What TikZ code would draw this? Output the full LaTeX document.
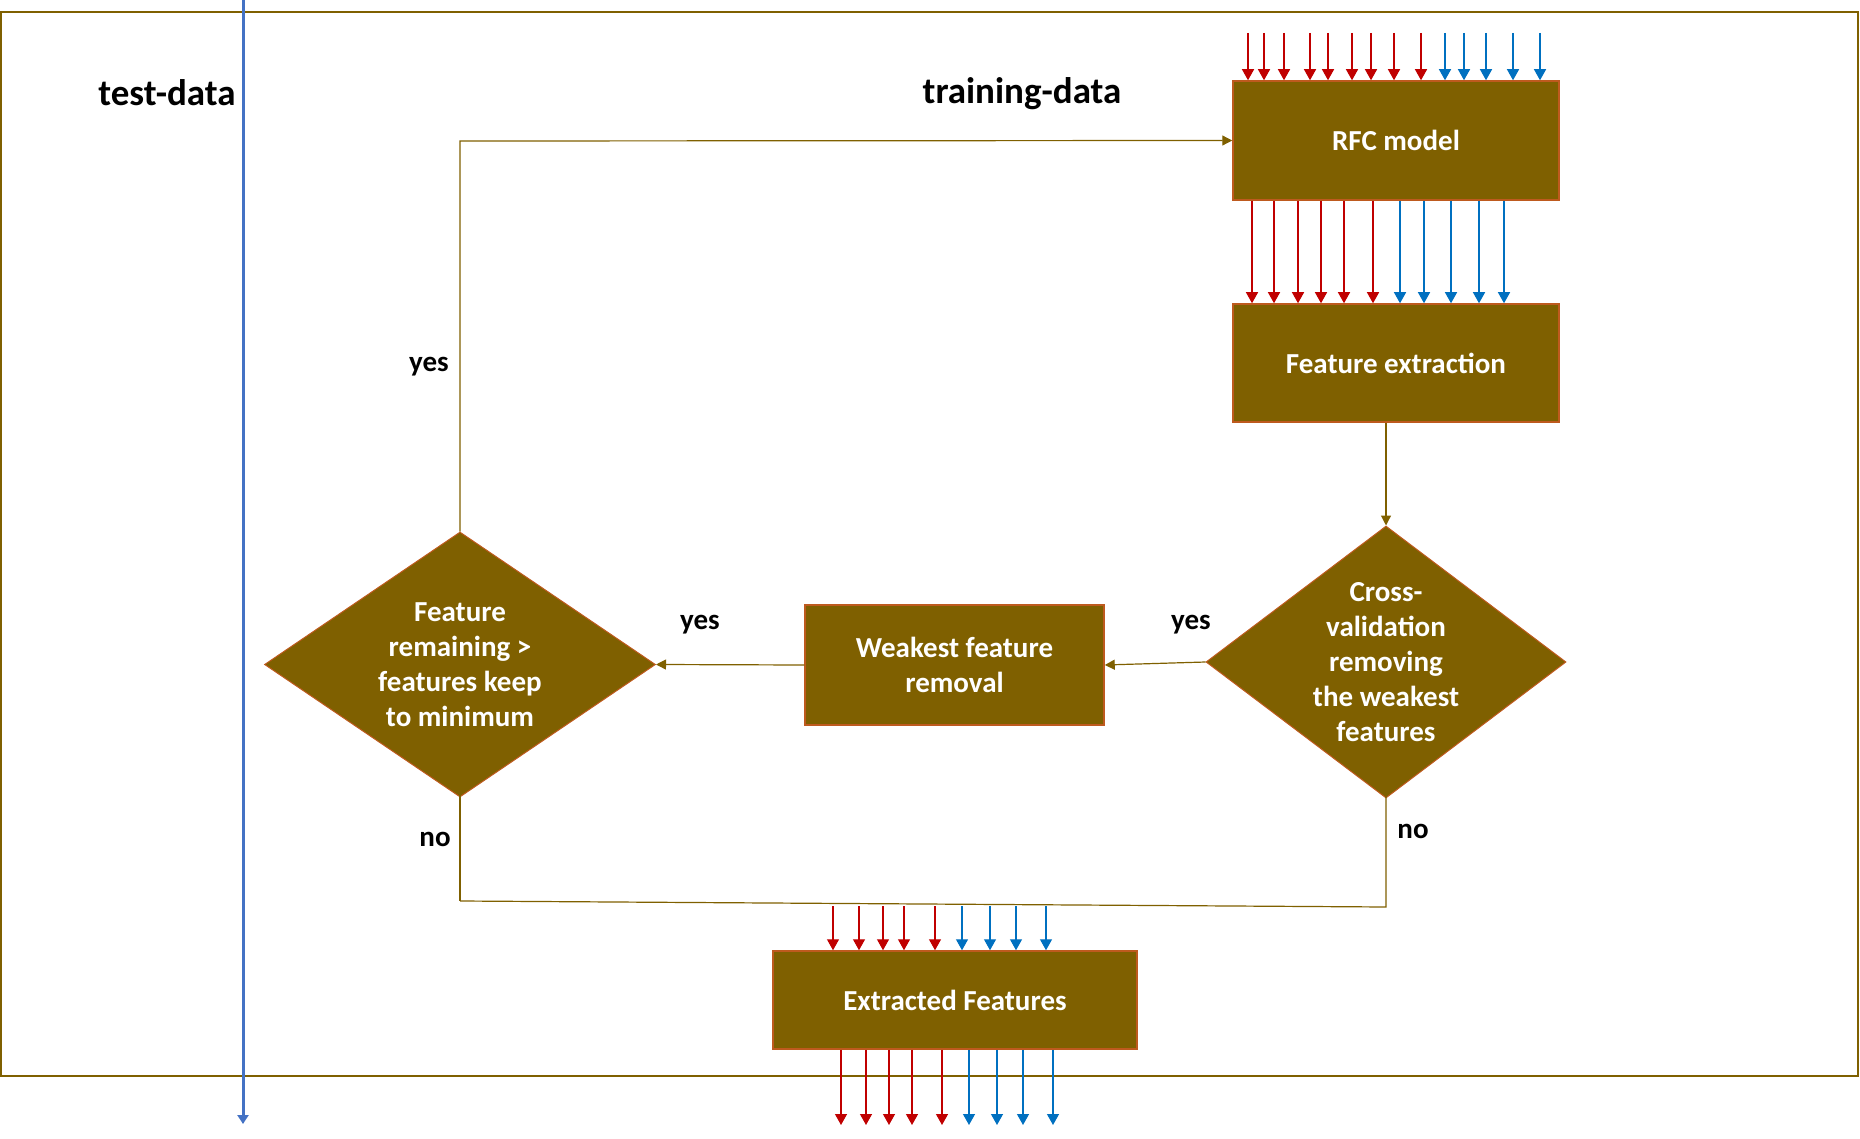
\documentclass[tikz,border=0pt]{standalone}
\usepackage{fontspec}
\setmainfont{Carlito}
\usetikzlibrary{shapes.geometric,arrows.meta,calc}
\definecolor{brownfill}{RGB}{127,96,0}
\definecolor{edgeor}{RGB}{190,90,30}
\definecolor{redarr}{RGB}{192,0,0}
\definecolor{bluearr}{RGB}{0,112,192}
\definecolor{testblue}{RGB}{68,114,196}
\begin{document}
\begin{tikzpicture}[x=1pt,y=-1pt,
  boxtext/.style={text=white, font=\bfseries\fontsize{29}{35}\selectfont, align=center},
  procbox/.style={draw=edgeor, line width=1.5pt, fill=brownfill, boxtext, inner sep=0pt},
  decision/.style={diamond, draw=edgeor, line width=1pt, fill=brownfill, inner sep=0pt},
  lbl/.style={font=\bfseries\fontsize{29}{35}\selectfont},
  title/.style={font=\bfseries\fontsize{37}{44}\selectfont},
  conn/.style={draw=brownfill, line width=1.2pt},
  connarr/.style={conn, -{Triangle[width=10pt,length=10pt]}},
  redarrow/.style={draw=redarr, line width=1.3pt, -{Triangle[width=12pt,length=11pt]}},
  bluearrow/.style={draw=bluearr, line width=1.3pt, -{Triangle[width=12pt,length=11pt]}}]
\useasboundingbox (0,0) rectangle (1860,1139);
% frame
\draw[brownfill, line width=2pt] (1,12) rectangle (1858,1076);
% nodes
\node[procbox, minimum width=326, minimum height=119] (rfc) at (1396,140.5) {RFC model};
\node[procbox, minimum width=326, minimum height=118] (fe) at (1396,363) {Feature extraction};
\node[procbox, minimum width=299, minimum height=120] (wfr) at (954.5,665) {Weakest feature\\removal};
\node[procbox, minimum width=364, minimum height=98] (ef) at (955,1000) {Extracted Features};
\node[decision, minimum width=391, minimum height=265,
  label={[boxtext]center:Feature\\remaining >\\features keep\\to minimum}] (fr) at (460,664.5) {};
\node[decision, minimum width=360, minimum height=272,
  label={[boxtext]center:Cross-\\validation\\removing\\the weakest\\features}] (cv) at (1386,662) {};
% titles and labels
\node[title] (testlbl) at (167,93) {test-data};
\node[title] (trainlbl) at (1022,94) {training-data};
\node[lbl] (yes1) at (429,367) {yes};
\node[lbl] (yes2) at (700,625) {yes};
\node[lbl] (yes3) at (1191,625) {yes};
\node[lbl] (no1) at (435,839) {no};
\node[lbl] (no2) at (1413,831) {no};
% connector helper coordinates
\coordinate (toprow) at (0,33);
\coordinate (loopcorner) at (460,141);
\coordinate (mergeL) at (460,901);
\coordinate (mergeR) at (1386,907);
\coordinate (efrow) at (0,906);
\coordinate (botrow) at (0,1125);
% brown connectors
\draw[connarr] (cv.north |- fe.south) -- (cv.north);
\draw[connarr] (cv.west) -- (wfr.east);
\draw[connarr] (wfr.west) -- (fr.east);
\draw[connarr] (fr.north) -- (loopcorner) -- (rfc.west);
\draw[conn] ([yshift=6]fr.south) -- (mergeL);
\draw[conn] ([yshift=7]cv.south) -- (mergeR) -- (mergeL);
% coloured data arrows
\foreach \x in {1248,1264,1284,1310,1328,1352,1371,1394,1421}
  \draw[redarrow] (\x,0 |- toprow) -- (\x,0 |- rfc.north);
\foreach \x in {1445,1464,1486,1513,1540}
  \draw[bluearrow] (\x,0 |- toprow) -- (\x,0 |- rfc.north);
\foreach \x in {1252,1274,1298,1321,1344,1373}
  \draw[redarrow] (\x,0 |- rfc.south) -- (\x,0 |- fe.north);
\foreach \x in {1400,1424,1451,1479,1504}
  \draw[bluearrow] (\x,0 |- rfc.south) -- (\x,0 |- fe.north);
\foreach \x in {833,859,883,904,935}
  \draw[redarrow] (\x,0 |- efrow) -- (\x,0 |- ef.north);
\foreach \x in {962,990,1016,1046}
  \draw[bluearrow] (\x,0 |- efrow) -- (\x,0 |- ef.north);
\foreach \x in {841,866,889,912,942}
  \draw[redarrow] (\x,0 |- ef.south) -- (\x,0 |- botrow);
\foreach \x in {969,997,1023,1053}
  \draw[bluearrow] (\x,0 |- ef.south) -- (\x,0 |- botrow);
% test-data line
\coordinate (testtop) at (243,0);
\coordinate (testbot) at (243,1124);
\draw[testblue, line width=3pt, -{Triangle[width=11pt,length=9pt]}] (testtop) -- (testbot);
\end{tikzpicture}
\end{document}
